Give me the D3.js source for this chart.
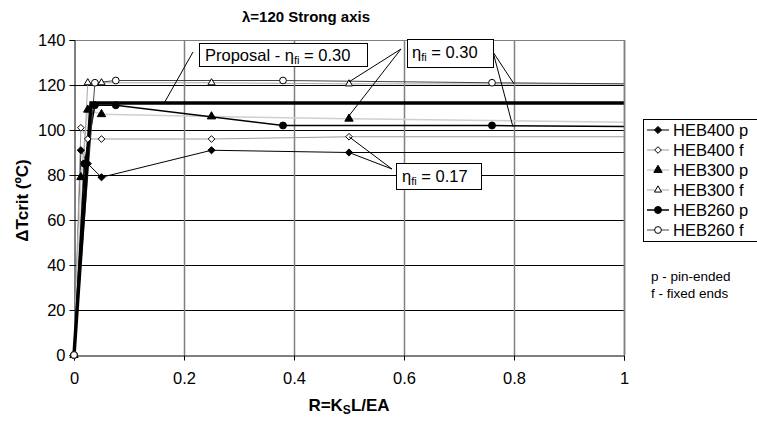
<!DOCTYPE html>
<html>
<head>
<meta charset="utf-8">
<script src="https://cdn.jsdelivr.net/npm/d3@7"></script>
<style>
  html, body { margin: 0; padding: 0; background: #fff; }
  svg { display: block; font-family: "Liberation Sans", Arial, sans-serif; }
</style>
</head>
<body>
<svg id="chart" width="757" height="422"></svg>
<script>
// Critical temperature increase vs. axial restraint ratio, lambda = 120, strong axis
const xTicks = [0, 0.2, 0.4, 0.6, 0.8, 1];
const xTickLabels = ["0", "0.2", "0.4", "0.6", "0.8", "1"];
const yTicks = [0, 20, 40, 60, 80, 100, 120, 140];

// Restraint ratios R for each section (last point runs past R = 1)
const rHEB400 = [0, 0.0125, 0.025, 0.05, 0.25, 0.5, 1.01];
const rHEB300 = [0, 0.0125, 0.025, 0.05, 0.25, 0.5, 1.01];
const rHEB300f = [0, 0.025, 0.05, 0.25, 0.5, 1.01];
const rHEB260 = [0, 0.019, 0.038, 0.076, 0.38, 0.76, 1.52];
const rHEB260f = [0, 0.038, 0.076, 0.38, 0.76, 1.52];

// ΔTcrit values (ºC)
const heb400p = [0, 91, 85, 79, 91, 90, 90];
const heb400f = [0, 101, 96, 96, 96, 97, 97];
const heb300p = [0, 79, 109, 107, 106, 105, 103.4];
const heb300f = [0, 121, 121, 121, 120.5, 120.5];
const heb260p = [0, 85, 111, 111, 102, 102, 100.5];
const heb260f = [0, 121, 122, 122, 121, 119.5];

// Design proposal for eta_fi = 0.30
const rProposal = [0, 0.031, 1];
const proposal = [0, 112, 112];

const seriesNames = ["HEB400 p", "HEB400 f", "HEB300 p", "HEB300 f", "HEB260 p", "HEB260 f"];

// Diamond drawn as a square turned by 45 degrees
const diamond = {
  draw(ctx, size) {
    const h = Math.sqrt(size / 2);
    ctx.moveTo(0, -h); ctx.lineTo(h, 0); ctx.lineTo(0, h); ctx.lineTo(-h, 0); ctx.closePath();
  }
};

const series = [
  { name: seriesNames[0], r: rHEB400, v: heb400p, stroke: "#000", sw: 1, shape: diamond, size: 26, fill: "#000" },
  { name: seriesNames[1], r: rHEB400, v: heb400f, stroke: "#9a9a9a", sw: 1, shape: diamond, size: 22, fill: "#fff" },
  { name: seriesNames[2], r: rHEB300, v: heb300p, stroke: "#cfcfcf", sw: 1.5, shape: d3.symbolTriangle, size: 30, fill: "#000" },
  { name: seriesNames[3], r: rHEB300f, v: heb300f, stroke: "#a8a8a8", sw: 1, shape: d3.symbolTriangle, size: 22, fill: "#fff" },
  { name: seriesNames[4], r: rHEB260, v: heb260p, stroke: "#000", sw: 1.5, shape: d3.symbolCircle, size: 38, fill: "#000" },
  { name: seriesNames[5], r: rHEB260f, v: heb260f, stroke: "#444", sw: 1, shape: d3.symbolCircle, size: 36, fill: "#fff" }
];

const svg = d3.select("#chart");
const plot = { left: 74, right: 624, top: 40, bottom: 355 };

const x = d3.scaleLinear().domain([0, 1]).range([plot.left, plot.right]);
const y = d3.scaleLinear().domain([0, 140]).range([plot.bottom, plot.top]);

svg.append("defs").append("clipPath").attr("id", "plotClip")
  .append("rect")
  .attr("x", plot.left - 6).attr("y", plot.top - 6)
  .attr("width", plot.right - plot.left + 6).attr("height", plot.bottom - plot.top + 12);

// Gridlines
svg.append("g").selectAll("line").data(yTicks.slice(1)).join("line")
  .attr("x1", plot.left).attr("x2", plot.right)
  .attr("y1", d => y(d) + 0.5).attr("y2", d => y(d) + 0.5)
  .attr("stroke", d => d === 140 ? "#808080" : "#000").attr("stroke-width", 1);
svg.append("g").selectAll("line").data(xTicks.slice(1)).join("line")
  .attr("x1", d => Math.round(x(d)) + 0.5).attr("x2", d => Math.round(x(d)) + 0.5)
  .attr("y1", plot.top).attr("y2", plot.bottom)
  .attr("stroke", "#808080").attr("stroke-width", 1.5);

// Axes
const xAxis = svg.append("g").attr("transform", `translate(0,${plot.bottom + 0.5})`)
  .call(d3.axisBottom(x).tickValues(xTicks).tickFormat((d, i) => xTickLabels[i]).tickSize(5).tickPadding(12));
const yAxis = svg.append("g").attr("transform", `translate(${plot.left + 0.5},0)`)
  .call(d3.axisLeft(y).tickValues(yTicks).tickSize(5).tickPadding(4));
[xAxis, yAxis].forEach(g => {
  g.select(".domain").attr("stroke", "#000");
  g.selectAll(".tick line").attr("stroke", "#000");
  g.selectAll(".tick text").attr("font-size", 16.5).attr("fill", "#000")
    .attr("font-family", "'Liberation Sans', Arial, sans-serif");
});

// Series lines and markers
const line = d3.line().x(d => x(d[0])).y(d => y(d[1]));
const gData = svg.append("g").attr("clip-path", "url(#plotClip)");

series.forEach(s => {
  const pts = s.r.map((r, i) => [r, s.v[i]]);
  gData.append("path").datum(pts)
    .attr("d", line).attr("fill", "none")
    .attr("stroke", s.stroke).attr("stroke-width", s.sw);
});

gData.append("path").datum(rProposal.map((r, i) => [r, proposal[i]]))
  .attr("d", line).attr("fill", "none").attr("stroke", "#000").attr("stroke-width", 3.5);

series.forEach(s => {
  const pts = s.r.map((r, i) => [r, s.v[i]]).filter(d => d[0] <= 1);
  gData.append("g").selectAll("path").data(pts).join("path")
    .attr("transform", d => `translate(${x(d[0])},${y(d[1])})`)
    .attr("d", d3.symbol().type(s.shape).size(s.size))
    .attr("fill", s.fill).attr("stroke", "#000").attr("stroke-width", 1);
});

// Plot area frame (right side)
svg.append("line").attr("x1", plot.right + 0.5).attr("x2", plot.right + 0.5)
  .attr("y1", plot.top).attr("y2", plot.bottom).attr("stroke", "#808080").attr("stroke-width", 1.5);

// Annotations with leader lines
const ann = svg.append("g").attr("font-size", 16.5).attr("fill", "#000");

function etaLabel(g, tx, ty, prefix, value) {
  const t = g.append("text").attr("x", tx).attr("y", ty);
  t.append("tspan").text(prefix + "η");
  t.append("tspan").attr("font-size", 11).attr("dy", 3).text("fi");
  t.append("tspan").attr("dy", -3).text(" = " + value);
}

function leader(x1, y1, x2, y2) {
  ann.append("line").attr("x1", x1).attr("y1", y1).attr("x2", x2).attr("y2", y2)
    .attr("stroke", "#000").attr("stroke-width", 1);
}

// Proposal label
leader(193, 52, x(0.165), y(proposal[2]) - 1);
ann.append("rect").attr("x", 199.5).attr("y", 43.5).attr("width", 168).attr("height", 23)
  .attr("fill", "#fff").attr("stroke", "#000");
etaLabel(ann, 205, 61, "Proposal - ", "0.30");

// eta_fi = 0.30 label (fixed and pinned HEB300 / HEB260)
leader(401, 49, x(rHEB300f[4]), y(heb300f[4]) - 2);
leader(401, 49, x(rHEB300[5]), y(heb300p[5]) - 3);
leader(493, 52, x(0.8), y(120.5));
leader(493, 52, x(0.798), y(101.5));
ann.append("rect").attr("x", 407.5).attr("y", 39.5).attr("width", 86).attr("height", 28)
  .attr("fill", "#fff").attr("stroke", "#000");
etaLabel(ann, 412, 58, "", "0.30");

// eta_fi = 0.17 label (HEB400)
leader(392, 169, x(rHEB400[5]), y(heb400f[5]));
leader(392, 169, x(rHEB400[5]), y(heb400p[5]));
ann.append("rect").attr("x", 396.5).attr("y", 163.5).attr("width", 85).attr("height", 26)
  .attr("fill", "#fff").attr("stroke", "#000");
etaLabel(ann, 402, 182, "", "0.17");

// Title and axis titles
svg.append("text").attr("x", 306).attr("y", 22).attr("text-anchor", "middle")
  .attr("font-size", 15).attr("font-weight", "bold").text("λ=120 Strong axis");

svg.append("text").attr("transform", `translate(28,${(plot.top + plot.bottom) / 2 + 3}) rotate(-90)`)
  .attr("text-anchor", "middle").attr("font-size", 17).attr("font-weight", "bold")
  .text("ΔTcrit (ºC)");

const xt = svg.append("text").attr("x", (plot.left + plot.right) / 2).attr("y", 411)
  .attr("text-anchor", "middle").attr("font-size", 17).attr("font-weight", "bold");
xt.append("tspan").text("R=K");
xt.append("tspan").attr("font-size", 12).attr("dy", 3).text("S");
xt.append("tspan").attr("dy", -3).text("L/EA");

// Legend
const lg = svg.append("g");
lg.append("rect").attr("x", 643.5).attr("y", 119.5).attr("width", 130).attr("height", 122)
  .attr("fill", "#fff").attr("stroke", "#000");
series.forEach((s, i) => {
  const ly = 130 + i * 20;
  lg.append("line").attr("x1", 647).attr("x2", 669).attr("y1", ly).attr("y2", ly)
    .attr("stroke", s.stroke).attr("stroke-width", s.sw);
  lg.append("path").attr("transform", `translate(658,${ly})`)
    .attr("d", d3.symbol().type(s.shape).size(s.size))
    .attr("fill", s.fill).attr("stroke", "#000");
  lg.append("text").attr("x", 673).attr("y", ly + 6).attr("font-size", 16.5).text(s.name);
});

svg.append("text").attr("x", 651).attr("y", 281).attr("font-size", 13.5).text("p - pin-ended");
svg.append("text").attr("x", 651).attr("y", 298).attr("font-size", 13.5).text("f - fixed ends");
</script>
</body>
</html>
